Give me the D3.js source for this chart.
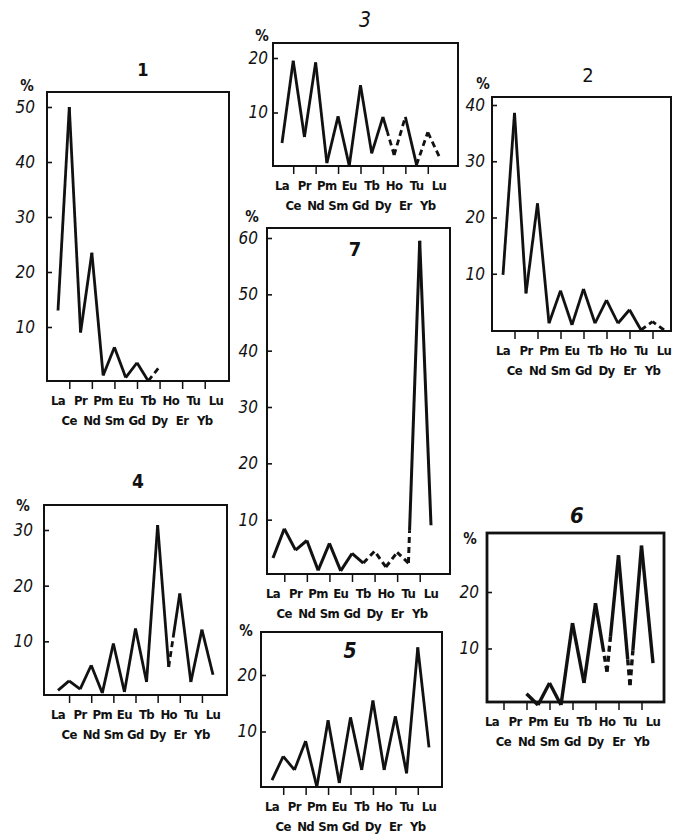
<!DOCTYPE html>
<html><head><meta charset="utf-8">
<script src="https://cdn.jsdelivr.net/npm/d3@7"></script>
<style>body{margin:0;background:#fff}</style></head>
<body>
<svg id="c" width="677" height="836"></svg>
<script>
// ---- data ----
const elements = ["La","Ce","Pr","Nd","Pm","Sm","Eu","Gd","Tb","Dy","Ho","Er","Tu","Yb","Lu"];
const titles = ["1","3","2","7","4","5","6"];
// percentages per element (null = not plotted)
const values1 = [13, 50, 9, 23.5, 1.2, 6.3, 0.8, 3.5, 0.2, 2.8, null, null, null, null, null];
const values3 = [4.4, 19.5, 5.5, 19.2, 0.7, 9.3, 0.2, 15, 2.5, 9.2, 2.2, 9.2, 0.4, 6.4, 2];
const values2 = [9.8, 38.6, 6.5, 22.5, 1.2, 7, 0.9, 7.3, 1.2, 5.3, 1.2, 3.6, 0, 1.5, 0];
const values7 = [3.2, 8.4, 4.6, 6.3, 1, 5.8, 0.9, 4, 2.3, 4.4, 1.6, 4.2, 2.3, 59.5, 9];
const values4 = [1.2, 2.9, 1.4, 5.7, 0.7, 9.6, 0.9, 12.3, 2.7, 30.9, 5.4, 18.6, 2.7, 12.1, 4];
const values5 = [1.4, 5.6, 3.2, 8.3, 0.2, 12, 0.9, 12.5, 3.2, 15.5, 3.2, 12.7, 2.6, 24.9, 7.2];
const values6 = [null, null, null, 2, 0, 3.9, 0, 14.5, 3.9, 18, 5.9, 26.5, 3.5, 28.2, 7.4];
// share of each segment (from its low end) that is uncertain (drawn dashed)
const uncertain1 = [0,0,0,0,0,0,0,0,1,0,0,0,0,0];
const uncertain3 = [0,0,0,0,0,0,0,0,0,0.6,1,0,1,1];
const uncertain2 = [0,0,0,0,0,0,0,0,0,0,0,0,1,1];
const uncertain7 = [0,0,0,0,0,0,0,0,1,1,1,1,0.1,0];
const uncertain4 = [0,0,0,0,0,0,0,0,0,0,0.4,0,0,0];
const uncertain5 = [0,0,0,0,0,0,0,0,0,0,0,0,0,0];
const uncertain6 = [0,0,0,0,0,0,0,0,0,0.3,0.3,0.2,0.25,0];
const yTicks1 = [10,20,30,40,50];
const yTicks3 = [10,20];
const yTicks2 = [10,20,30,40];
const yTicks7 = [10,20,30,40,50,60];
const yTicks4 = [10,20,30];
const yTicks5 = [10,20];
const yTicks6 = [10,20];

// ---- layout ----
const panels = [
  {t:0, vals:values1, unc:uncertain1, ticks:yTicks1, yMax:50, box:[47,92,229,381], xr:[58,216], yr:[382,107], gap:12, pct:[27,91], tp:[143,76], tf:"bold 18px", lw:2.8},
  {t:1, vals:values3, unc:uncertain3, ticks:yTicks3, yMax:20, box:[273,43,458,166], xr:[282,439], yr:[167,58], gap:5, pct:[262,41], tp:[365,27], tf:"italic 21px", lw:2.8},
  {t:2, vals:values2, unc:uncertain2, ticks:yTicks2, yMax:40, box:[492,97,671,331], xr:[503,664], yr:[330,105], gap:7, pct:[483,89], tp:[588,82], tf:"20px", lw:2.8},
  {t:3, vals:values7, unc:uncertain7, ticks:yTicks7, yMax:60, box:[267,228,450,574], xr:[273,431], yr:[576,238], gap:9, pct:[252,222], tp:[355,256], tf:"bold 20px", lw:3},
  {t:4, vals:values4, unc:uncertain4, ticks:yTicks4, yMax:30, box:[44,505,227,695], xr:[58,213], yr:[697,530], gap:11, pct:[23,511], tp:[138,488], tf:"bold 19px", lw:2.8},
  {t:5, vals:values5, unc:uncertain5, ticks:yTicks5, yMax:20, box:[261,632,442,787], xr:[272,429], yr:[788,675], gap:4, pct:[246,636], tp:[350,658], tf:"italic bold 21px", lw:2.8},
  {t:6, vals:values6, unc:uncertain6, ticks:yTicks6, yMax:20, box:[487,533,664,702], xr:[492,653], yr:[705,592], gap:8, pct:[470,544], tp:[577,523], tf:"italic bold 22px", lw:3.4}
];

const svg = d3.select("#c");
const NF = "'DejaVu Sans Condensed','DejaVu Sans',sans-serif";

panels.forEach(p => {
  const g = svg.append("g");
  const [bx0, by0, bx1, by1] = p.box;
  const x = d3.scalePoint().domain(elements).range(p.xr);
  const y = d3.scaleLinear().domain([0, p.yMax]).range(p.yr);

  // frame
  g.append("rect").attr("x", bx0).attr("y", by0).attr("width", bx1 - bx0).attr("height", by1 - by0)
    .attr("fill", "none").attr("stroke", "#111").attr("stroke-width", p.t === 6 ? 2.8 : 2);

  // y axis ticks + labels
  const ya = d3.axisLeft(y).tickValues(p.ticks).tickSize(-5).tickPadding(p.gap);
  const yg = g.append("g").attr("transform", `translate(${bx0},0)`).call(ya);
  yg.select(".domain").remove();
  yg.selectAll(".tick line").attr("stroke", "#111").attr("stroke-width", 1.6);
  yg.selectAll(".tick text").attr("fill", "#111")
    .style("font", `italic 17px ${NF}`);

  // x axis: ticks at even-index elements, labels in two rows
  const evens = elements.filter((d, i) => i % 2 === 1);
  const odds = elements.filter((d, i) => i % 2 === 0);
  const xa = d3.axisBottom(x).tickValues(evens).tickSize(8).tickFormat("");
  const xg = g.append("g").attr("transform", `translate(0,${by1})`).call(xa);
  xg.select(".domain").remove();
  xg.selectAll(".tick line").attr("stroke", "#111").attr("stroke-width", 1.5);
  g.selectAll("text.r1").data(odds).enter().append("text")
    .attr("x", d => x(d)).attr("y", by1 + 24).attr("text-anchor", "middle")
    .style("font", `bold 13px ${NF}`).style("letter-spacing", "-0.6px").attr("fill", "#111").text(d => d);
  g.selectAll("text.r2").data(evens).enter().append("text")
    .attr("x", d => x(d)).attr("y", by1 + 44).attr("text-anchor", "middle")
    .style("font", `bold 13px ${NF}`).style("letter-spacing", "-0.6px").attr("fill", "#111").text(d => d);

  // percent sign and title
  g.append("text").attr("x", p.pct[0]).attr("y", p.pct[1]).attr("text-anchor", "middle")
    .style("font", `bold 15px ${NF}`).attr("fill", "#111").text("%");
  g.append("text").attr("x", p.tp[0]).attr("y", p.tp[1]).attr("text-anchor", "middle")
    .style("font", `${p.tf} ${NF}`).attr("fill", "#111").text(titles[p.t]);

  // line segments
  const pts = elements.map((e, i) => ({e, v: p.vals[i]}));
  const line = d3.line().x(d => d[0]).y(d => d[1]);
  for (let i = 0; i < pts.length - 1; i++) {
    const a = pts[i], b = pts[i + 1];
    if (a.v == null || b.v == null) continue;
    const A = [x(a.e), y(a.v)], B = [x(b.e), y(b.v)];
    const q = p.unc[i] || 0;
    const low = a.v <= b.v ? A : B, high = a.v <= b.v ? B : A;
    const M = [low[0] + (high[0] - low[0]) * q, low[1] + (high[1] - low[1]) * q];
    if (q > 0) {
      g.append("path").attr("d", line([low, M])).attr("fill", "none")
        .attr("stroke", "#111").attr("stroke-width", p.lw).attr("stroke-dasharray", "6,4");
    }
    if (q < 1) {
      g.append("path").attr("d", line([M, high])).attr("fill", "none")
        .attr("stroke", "#111").attr("stroke-width", p.lw);
    }
  }
});
</script>
</body></html>
